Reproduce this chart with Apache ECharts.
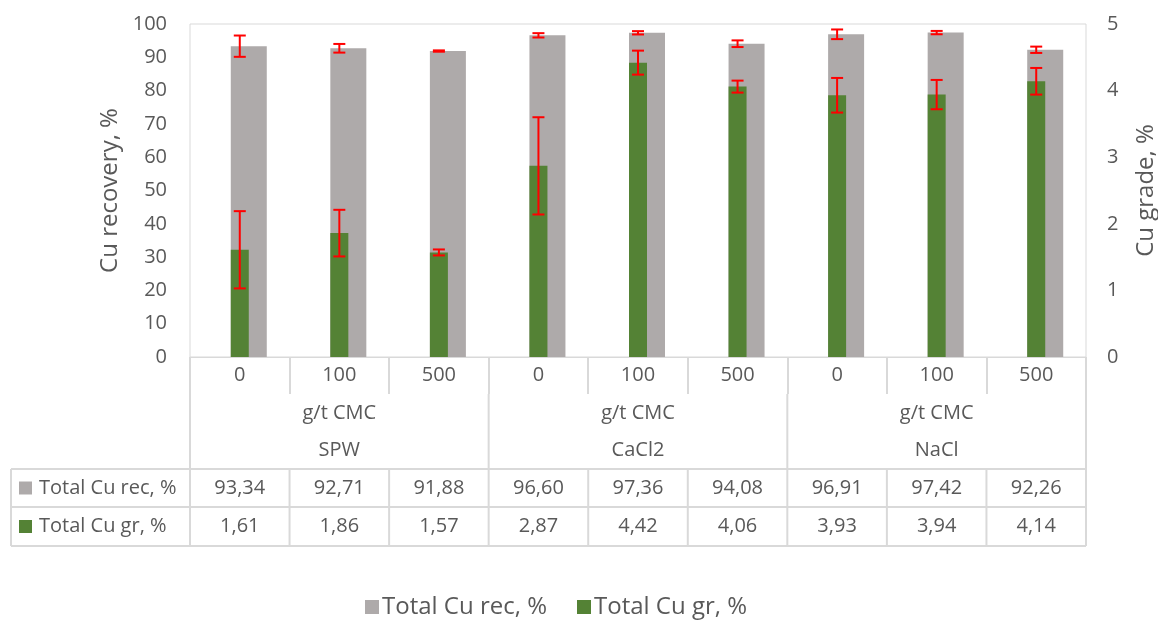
<!DOCTYPE html>
<html>
<head>
<meta charset="utf-8">
<script src="https://cdn.jsdelivr.net/npm/echarts@6/dist/echarts.min.js"></script>
<style>
  html, body { margin: 0; padding: 0; background: #fff; }
  #chart { width: 1158px; height: 624px; }
</style>
</head>
<body>
<div id="chart"></div>
<script>
// CMC dosage for each test, grouped by process water type
const categories = ['0', '100', '500', '0', '100', '500', '0', '100', '500'];
const groups = ['SPW', 'CaCl2', 'NaCl'];
const groupUnit = 'g/t CMC';
const recName = 'Total Cu rec, %';
const grName = 'Total Cu gr, %';

// Total Cu recovery, % (left axis) and its error half-width
const recovery = [93.34, 92.71, 91.88, 96.60, 97.36, 94.08, 96.91, 97.42, 92.26];
const recoveryErr = [3.2, 1.3, 0.2, 0.65, 0.5, 1.0, 1.45, 0.5, 0.95];

// Total Cu grade, % (right axis) and its error half-width
const grade = [1.61, 1.86, 1.57, 2.87, 4.42, 4.06, 3.93, 3.94, 4.14];
const gradeErr = [0.58, 0.35, 0.045, 0.73, 0.18, 0.09, 0.26, 0.22, 0.2];

const leftTicks = { min: 0, max: 100, interval: 10 };
const rightTicks = { min: 0, max: 5, interval: 1 };

const FONT = '"Open Sans", Lato, sans-serif';
const FS = 20;
const TEXT = '#595959';
const LINE = '#D9D9D9';
const GREY = '#AEAAAA';
const GREEN = '#548235';
const RED = '#FF0000';

const fmt = v => v.toFixed(2).replace('.', ',');

function errorRenderer(params, api) {
  const i = api.value(0);
  const lo = api.coord([i, api.value(1)]);
  const hi = api.coord([i, api.value(2)]);
  const cap = 6;
  const style = { stroke: RED, lineWidth: 2 };
  return {
    type: 'group',
    children: [
      { type: 'line', shape: { x1: lo[0], y1: lo[1], x2: hi[0], y2: hi[1] }, style },
      { type: 'line', shape: { x1: lo[0] - cap, y1: lo[1], x2: lo[0] + cap, y2: lo[1] }, style },
      { type: 'line', shape: { x1: hi[0] - cap, y1: hi[1], x2: hi[0] + cap, y2: hi[1] }, style }
    ]
  };
}

const chart = echarts.init(document.getElementById('chart'), null, { renderer: 'canvas' });

chart.setOption({
  animation: false,
  textStyle: { fontFamily: FONT },
  grid: {
    left: 190, right: 72, top: 24, bottom: 267,
    containLabel: false, outerBoundsMode: 'none',
    show: true, borderColor: LINE, borderWidth: 1
  },
  legend: {
    bottom: 0,
    left: 360,
    data: [recName, grName],
    icon: 'rect',
    itemWidth: 14, itemHeight: 14, itemGap: 30,
    textStyle: { fontSize: 24, color: TEXT, fontFamily: FONT, padding: [0, 0, 0, -2] }
  },
  xAxis: {
    type: 'category',
    data: categories,
    axisLine: { show: true, lineStyle: { color: LINE, width: 1 } },
    axisTick: { show: true, length: 37, lineStyle: { color: LINE, width: 2 } },
    axisLabel: { color: TEXT, fontSize: FS, margin: 8, fontFamily: FONT }
  },
  yAxis: [
    {
      type: 'value', min: leftTicks.min, max: leftTicks.max, interval: leftTicks.interval,
      name: 'Cu recovery, %', nameLocation: 'middle', nameGap: 68,
      nameTextStyle: { color: TEXT, fontSize: 24, fontFamily: FONT },
      axisLine: { show: false }, axisTick: { show: false }, splitLine: { show: false },
      axisLabel: { color: TEXT, fontSize: FS, margin: 23, fontFamily: FONT }
    },
    {
      type: 'value', min: rightTicks.min, max: rightTicks.max, interval: rightTicks.interval,
      name: 'Cu grade, %', nameLocation: 'middle', nameGap: 48,
      nameTextStyle: { color: TEXT, fontSize: 24, fontFamily: FONT },
      axisLine: { show: false }, axisTick: { show: false }, splitLine: { show: false },
      axisLabel: { color: TEXT, fontSize: FS, margin: 21, fontFamily: FONT }
    }
  ],
  series: [
    {
      name: recName, type: 'bar', yAxisIndex: 0, data: recovery,
      barWidth: 36, barGap: '-100%', z: 2,
      itemStyle: { color: GREY }
    },
    {
      name: 'rec-err', type: 'custom', yAxisIndex: 0, z: 3,
      renderItem: errorRenderer,
      data: recovery.map((v, i) => [i, v - recoveryErr[i], v + recoveryErr[i]])
    },
    {
      name: grName, type: 'bar', yAxisIndex: 1, data: grade,
      barWidth: 18, barGap: '-100%', z: 4,
      itemStyle: { color: GREEN }
    },
    {
      name: 'gr-err', type: 'custom', yAxisIndex: 1, z: 5,
      renderItem: errorRenderer,
      data: grade.map((v, i) => [i, v - gradeErr[i], v + gradeErr[i]])
    }
  ]
});

// Data table under the category axis, laid out from the axis positions
function drawTable() {
  const x0 = chart.convertToPixel({ xAxisIndex: 0 }, 0);
  const x1 = chart.convertToPixel({ xAxisIndex: 0 }, 1);
  const band = x1 - x0;
  const left = x0 - band / 2;
  const right = left + band * categories.length;
  const axisY = chart.convertToPixel({ yAxisIndex: 0 }, 0);

  const tickBottom = axisY + 37;
  const rowTop = axisY + 112;
  const rowMid = rowTop + 38;
  const rowBot = rowMid + 39;
  const tableLeft = 11;

  const g = [];
  const ln = (xa, ya, xb, yb) => g.push({
    type: 'line', silent: true,
    shape: { x1: xa, y1: ya, x2: xb, y2: yb },
    style: { stroke: LINE, lineWidth: 2 }
  });
  const txt = (text, x, y, align) => g.push({
    type: 'text', silent: true,
    style: {
      text, x, y, align: align || 'center', verticalAlign: 'middle',
      fill: TEXT, font: FS + 'px ' + FONT
    }
  });

  // group separators and group captions
  const per = categories.length / groups.length;
  for (let k = 0; k <= groups.length; k++) {
    const gx = left + band * per * k;
    ln(gx, tickBottom, gx, rowTop);
  }
  groups.forEach((name, k) => {
    const cx = left + band * per * (k + 0.5);
    txt(groupUnit, cx, axisY + 56);
    txt(name, cx, axisY + 93);
  });

  // table grid
  ln(tableLeft, rowTop, right, rowTop);
  ln(tableLeft, rowMid, right, rowMid);
  ln(tableLeft, rowBot, right, rowBot);
  ln(tableLeft, rowTop, tableLeft, rowBot);
  for (let i = 0; i <= categories.length; i++) {
    const vx = left + band * i;
    ln(vx, rowTop, vx, rowBot);
  }

  // row headers with series keys
  const rows = [
    { name: recName, color: GREY, values: recovery, y: (rowTop + rowMid) / 2 },
    { name: grName, color: GREEN, values: grade, y: (rowMid + rowBot) / 2 }
  ];
  rows.forEach(r => {
    g.push({
      type: 'rect', silent: true,
      shape: { x: 19, y: r.y - 6.5, width: 13, height: 13 },
      style: { fill: r.color }
    });
    txt(r.name, 39, r.y, 'left');
    r.values.forEach((v, i) => {
      txt(fmt(v), chart.convertToPixel({ xAxisIndex: 0 }, i), r.y);
    });
  });

  chart.setOption({ graphic: { elements: g } });
}
drawTable();
</script>
</body>
</html>
